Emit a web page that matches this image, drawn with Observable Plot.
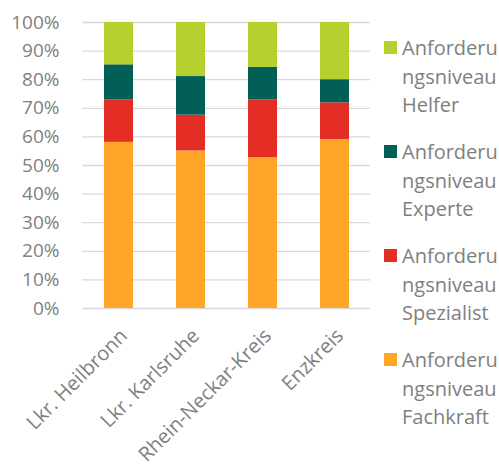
<!DOCTYPE html>
<html>
<head>
<meta charset="utf-8">
<script src="https://cdn.jsdelivr.net/npm/d3@7"></script>
<script src="https://cdn.jsdelivr.net/npm/@observablehq/plot@0.6"></script>
<style>
  html, body { margin: 0; padding: 0; background: #fff; }
  #wrap { position: relative; width: 499px; height: 468px; font-family: "Open Sans", sans-serif; }
  #legend { position: absolute; left: 384px; top: 0; }
  .item { position: absolute; left: 0; width: 115px; }
  .sw { position: absolute; left: 0; width: 13px; height: 13px; }
  .lab { position: absolute; left: 18px; font-size: 20px; line-height: 28.5px; color: #7f7f7f; white-space: nowrap; }
</style>
</head>
<body>
<div id="wrap"><div id="chart"></div><div id="legend"></div></div>
<script>
const categories = ["Lkr. Heilbronn", "Lkr. Karlsruhe", "Rhein-Neckar-Kreis", "Enzkreis"];
const seriesNames = ["Anforderungsniveau Fachkraft", "Anforderungsniveau Spezialist", "Anforderungsniveau Experte", "Anforderungsniveau Helfer"];
const legendLines = [["Anforderu", "ngsniveau", "Helfer"], ["Anforderu", "ngsniveau", "Experte"], ["Anforderu", "ngsniveau", "Spezialist"], ["Anforderu", "ngsniveau", "Fachkraft"]];
const legendOrder = [3, 2, 1, 0];
const colors = ["#ffa628", "#e32d25", "#015f58", "#b5d12f"];
const fachkraft = [58.1, 55.1, 52.7, 59.1];
const spezialist = [14.9, 12.5, 20.3, 12.8];
const experte = [12.2, 13.5, 11.3, 8.1];
const helfer = [14.8, 18.9, 15.7, 20.0];
const yTicks = [0, 10, 20, 30, 40, 50, 60, 70, 80, 90, 100];

const seriesValues = [fachkraft, spezialist, experte, helfer];
const data = [];
seriesNames.forEach((s, si) => {
  categories.forEach((c, ci) => data.push({category: c, series: s, value: seriesValues[si][ci]}));
});

const chart = Plot.plot({
  width: 499,
  height: 468,
  marginTop: 22,
  marginBottom: 160,
  marginLeft: 82,
  marginRight: 129,
  style: {fontFamily: "'Open Sans', sans-serif", fontSize: "19px", color: "#7f7f7f", background: "#fff", overflow: "visible"},
  x: {domain: categories, paddingInner: 0.6, paddingOuter: 0.3, label: null},
  y: {domain: [0, 100], label: null},
  color: {domain: seriesNames, range: colors},
  marks: [
    Plot.gridY(yTicks, {stroke: "#d9d9d9", strokeOpacity: 1, strokeWidth: 1.3}),
    Plot.barY(data, {x: "category", y: "value", fill: "series"}),
    Plot.axisY(yTicks, {tickSize: 0, tickPadding: 23, tickFormat: d => d + "%", fill: "#7f7f7f", fontSize: 19}),
    Plot.axisX({tickSize: 0, tickRotate: -45, tickPadding: 24, dx: 5, fill: "#7f7f7f", fontSize: 20})
  ]
});
document.getElementById("chart").appendChild(chart);

const legend = document.getElementById("legend");
legendOrder.forEach((si, i) => {
  const top = 41 + i * 104;
  const item = document.createElement("div");
  item.className = "item";
  item.style.top = top + "px";
  const sw = document.createElement("div");
  sw.className = "sw";
  sw.style.background = colors[si];
  sw.style.top = "0px";
  item.appendChild(sw);
  const lab = document.createElement("div");
  lab.className = "lab";
  lab.style.top = "-7px";
  lab.innerHTML = legendLines[i].join("<br>");
  item.appendChild(lab);
  legend.appendChild(item);
});
</script>
</body>
</html>
